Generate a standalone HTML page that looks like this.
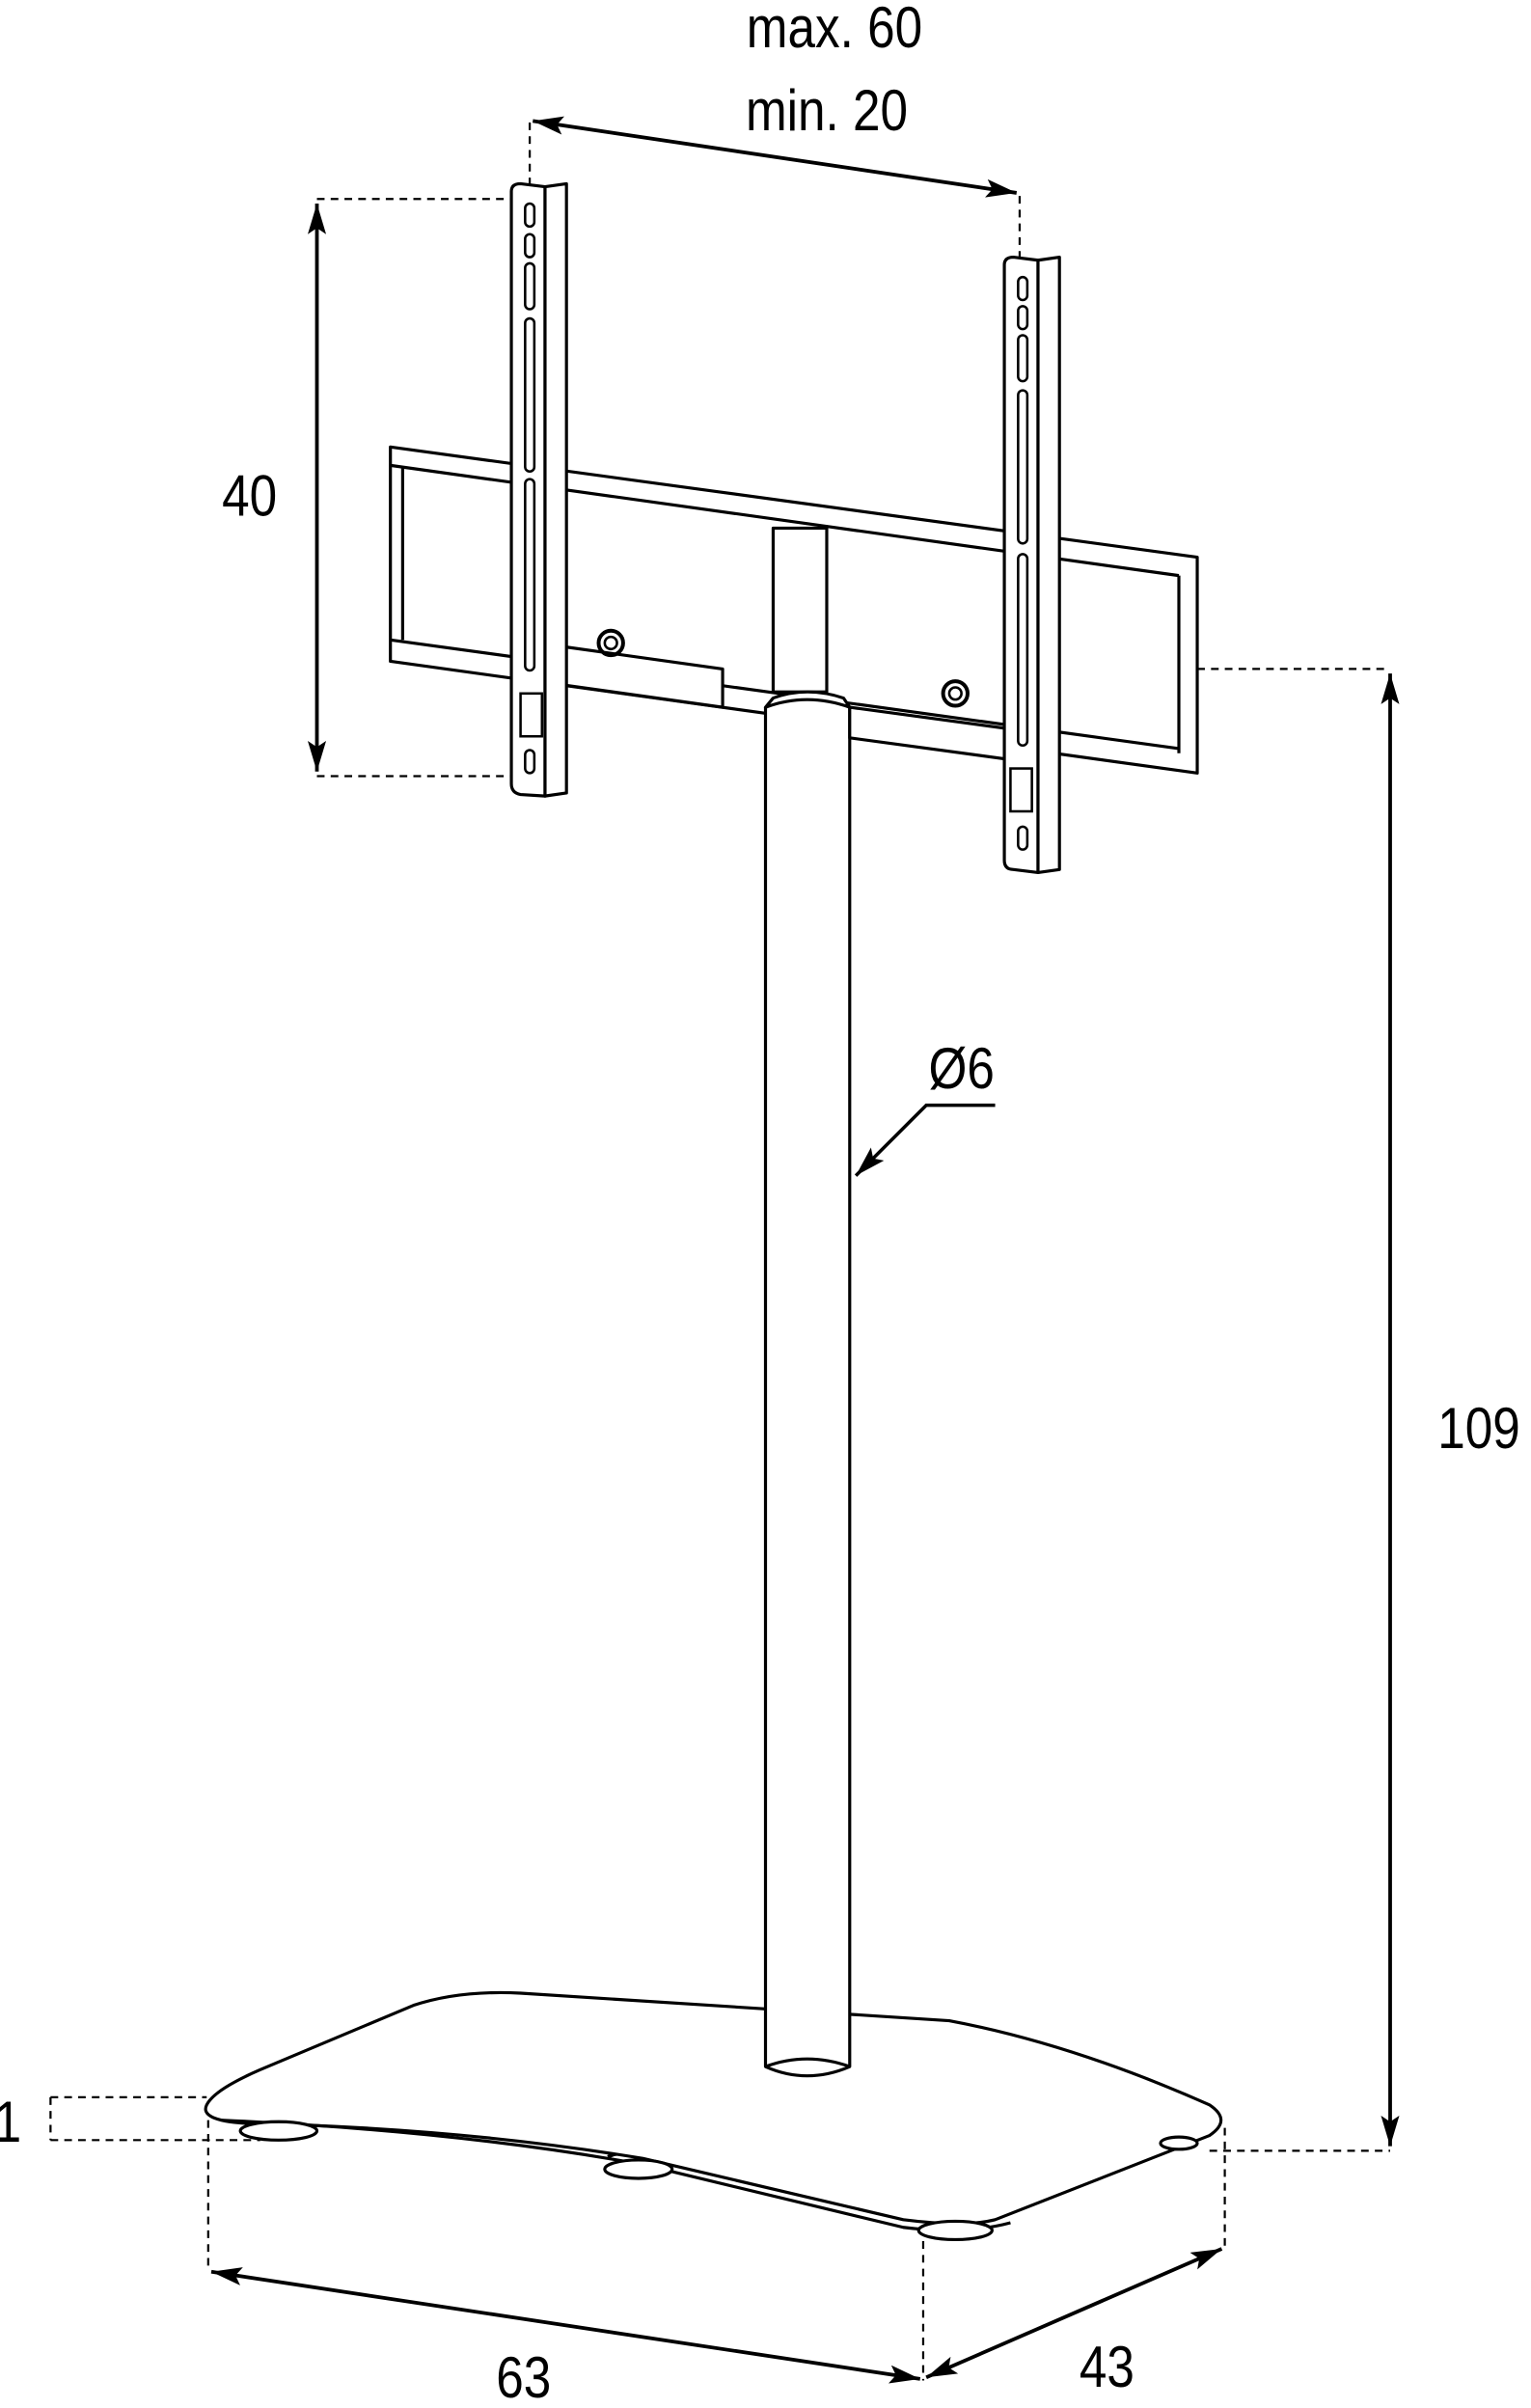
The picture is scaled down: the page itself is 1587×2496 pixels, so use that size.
<!DOCTYPE html>
<html><head><meta charset="utf-8"><style>html,body{margin:0;padding:0;background:#fff}svg{display:block}</style></head><body>
<svg width="1587" height="2496" viewBox="0 0 1000 1573" preserveAspectRatio="none" xmlns="http://www.w3.org/2000/svg">
<defs><marker id="a" viewBox="0 0 20 12" refX="20" refY="6" markerWidth="20" markerHeight="12" orient="auto-start-reverse" markerUnits="userSpaceOnUse"><path d="M0,0 L20,6 L0,12 L4,6Z" fill="#000"/></marker></defs>
<g font-family="Liberation Sans, sans-serif" font-size="38" fill="#000" text-anchor="middle">
<text transform="translate(545,31) scale(0.85,1)">max. 60</text>
<text transform="translate(540,85) scale(0.85,1)">min. 20</text>
<text transform="translate(163,337) scale(0.85,1)">40</text>
<text transform="translate(628,711) scale(0.85,1)">Ø6</text>
<text transform="translate(966,946) scale(0.85,1)">109</text>
<text transform="translate(5,1399) scale(0.85,1)">1</text>
<text transform="translate(427,1371) scale(0.85,1)">25</text>
<text transform="translate(342,1566) scale(0.85,1)">63</text>
<text transform="translate(723,1559) scale(0.85,1)">43</text>
</g>
<g stroke="#000" fill="none" stroke-width="1.4" stroke-dasharray="5,4">
<path d="M346,80V125 M666,128V170 M207,130H340 M207,507H340 M782,437H908 M790,1405H908 M33,1370H135 M33,1398H170 M33,1370V1398 M136,1385V1483 M603,1455V1555 M800,1390V1467"/>
</g>
<g stroke="#000" stroke-width="2.4" fill="none" marker-start="url(#a)" marker-end="url(#a)">
<path d="M348,79L664,126"/><path d="M207,133V504"/><path d="M908,440V1402"/>
<path d="M138,1484L601,1554"/><path d="M605,1553L798,1469"/><path d="M508,1361L397,1409"/>
</g>
<path d="M650,722H605L559,768" stroke="#000" stroke-width="2.2" fill="none" marker-end="url(#a)"/>
<g stroke="#000" stroke-width="2" fill="#fff" stroke-linejoin="round">
<path d="M255,292L782,364V505L255,432Z"/>
<path d="M255,304L770,376M263,305V418M255,418L770,489M770,376V492" fill="none"/>
<path d="M135,1375 Q140,1365 170,1352 L270,1310 Q300,1300 340,1302 L620,1320 Q700,1335 790,1375 Q805,1385 790,1395 L650,1450 Q630,1455 590,1450 L420,1410 Q300,1390 160,1387 Q130,1385 135,1375Z"/>
<path d="M145,1385 Q300,1392 420,1414 L590,1455 Q630,1460 660,1452" fill="none"/>
<ellipse cx="182" cy="1392" rx="25" ry="6"/><ellipse cx="417" cy="1417" rx="22" ry="6"/><ellipse cx="624" cy="1457" rx="24" ry="6"/><ellipse cx="770" cy="1400" rx="12" ry="4"/>
<path d="M500,462V1350 Q527,1362 555,1350V462"/>
<path d="M500,1350 Q527,1340 555,1350" fill="none"/>
<path d="M365,422L472,437V462L365,447Z M555,462L688,480V500L555,482Z"/>
<path d="M505,345H540V452H505Z"/>
<path d="M500,462 Q527,452 555,462 L551,456 Q527,448 505,456Z"/>
<path d="M334,125Q334,120 340,120L356,122V520L340,519Q334,518 334,512Z"/>
<path d="M356,122L370,120V518L356,520Z"/>
<path d="M656,173Q656,168 662,168L678,170V570L662,568Q656,568 656,562Z"/>
<path d="M678,170L692,168V568L678,570Z"/>
</g>
<g stroke="#000" stroke-width="1.6" fill="none">
<rect x="343" y="133" width="6" height="15" rx="3"/><rect x="343" y="153" width="6" height="15" rx="3"/><rect x="343" y="172" width="6" height="30" rx="3"/><rect x="343" y="208" width="6" height="100" rx="3"/><rect x="343" y="313" width="6" height="125" rx="3"/><rect x="340" y="453" width="14" height="28"/><rect x="343" y="490" width="6" height="15" rx="3"/>
<rect x="665" y="181" width="6" height="15" rx="3"/><rect x="665" y="200" width="6" height="15" rx="3"/><rect x="665" y="219" width="6" height="30" rx="3"/><rect x="665" y="255" width="6" height="100" rx="3"/><rect x="665" y="362" width="6" height="125" rx="3"/><rect x="660" y="502" width="14" height="28"/><rect x="665" y="540" width="6" height="15" rx="3"/>
<circle cx="399" cy="420" r="8" stroke-width="2.5"/><circle cx="399" cy="420" r="4"/><circle cx="624" cy="453" r="8" stroke-width="2.5"/><circle cx="624" cy="453" r="4"/>
</g>
</svg>
</body></html>
